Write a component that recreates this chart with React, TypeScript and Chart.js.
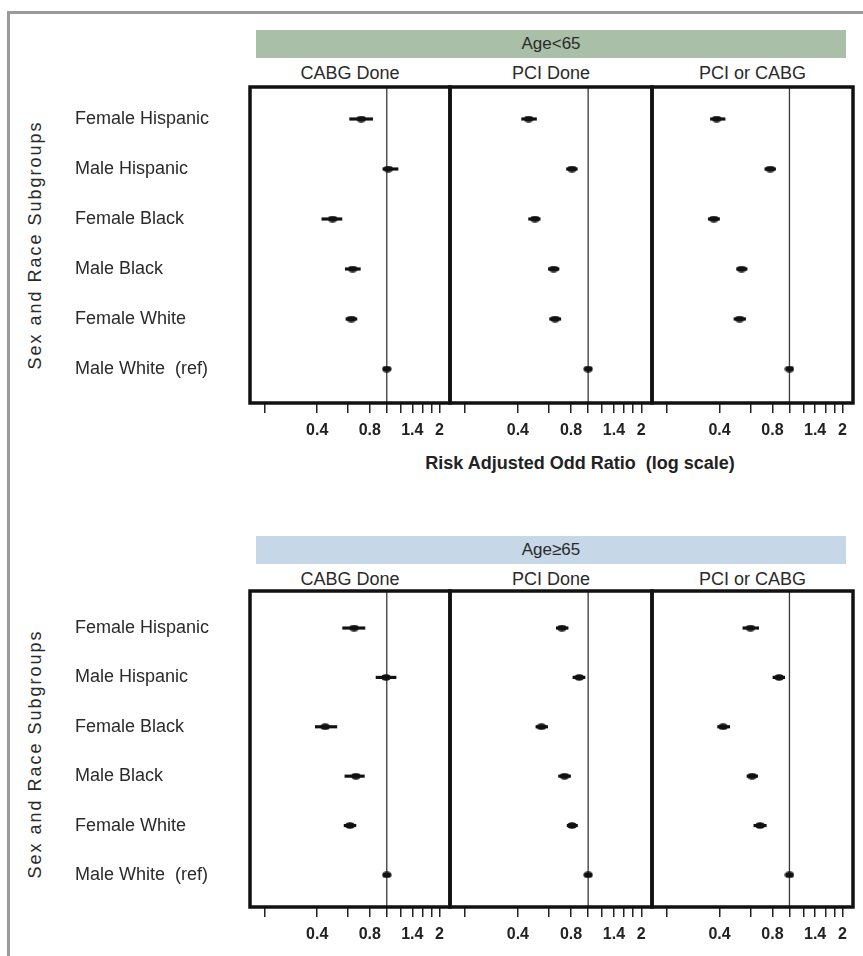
import React, { useEffect, useRef } from "react";
import { Chart, registerables } from "chart.js";

Chart.register(...registerables);

// ---------- data ----------
const subgroups = [
  "Female Hispanic",
  "Male Hispanic",
  "Female Black",
  "Male Black",
  "Female White",
  "Male White  (ref)",
];
const panelTitles = ["CABG Done", "PCI Done", "PCI or CABG"];
const ageGroups = ["Age<65", "Age\u226565"];
const xAxisTitle = "Risk Adjusted Odd Ratio  (log scale)";
const yAxisTitle = "Sex and Race Subgroups";
const tickValues = [0.2, 0.4, 0.6, 0.8, 1, 1.2, 1.4, 1.6, 1.8, 2];
const tickText = ["", "0.4", "", "0.8", "", "", "1.4", "", "", "2"];

// Age<65
const youngCabgOR = [0.715, 1.02, 0.49, 0.638, 0.627, 1.0];
const youngCabgLo = [0.613, 0.95, 0.425, 0.579, 0.584, null];
const youngCabgHi = [0.83, 1.16, 0.554, 0.706, 0.675, null];

const youngPciOR = [0.46, 0.81, 0.5, 0.638, 0.65, 1.0];
const youngPciLo = [0.42, 0.754, 0.46, 0.595, 0.605, null];
const youngPciHi = [0.51, 0.868, 0.535, 0.684, 0.7, null];

const youngAnyOR = [0.385, 0.778, 0.371, 0.534, 0.52, 1.0];
const youngAnyLo = [0.355, 0.724, 0.345, 0.5, 0.483, null];
const youngAnyHi = [0.43, 0.834, 0.4, 0.574, 0.563, null];

// Age>=65
const oldCabgOR = [0.65, 0.99, 0.444, 0.666, 0.616, 1.0];
const oldCabgLo = [0.559, 0.868, 0.39, 0.576, 0.57, null];
const oldCabgHi = [0.75, 1.13, 0.518, 0.744, 0.666, null];

const oldPciOR = [0.71, 0.89, 0.544, 0.735, 0.81, 1.0];
const oldPciLo = [0.66, 0.82, 0.506, 0.68, 0.76, null];
const oldPciHi = [0.77, 0.96, 0.59, 0.795, 0.87, null];

const oldAnyOR = [0.6, 0.873, 0.419, 0.613, 0.68, 1.0];
const oldAnyLo = [0.543, 0.805, 0.39, 0.573, 0.627, null];
const oldAnyHi = [0.668, 0.94, 0.457, 0.659, 0.738, null];

const panelData = [
  { or: youngCabgOR, lo: youngCabgLo, hi: youngCabgHi },
  { or: youngPciOR, lo: youngPciLo, hi: youngPciHi },
  { or: youngAnyOR, lo: youngAnyLo, hi: youngAnyHi },
  { or: oldCabgOR, lo: oldCabgLo, hi: oldCabgHi },
  { or: oldPciOR, lo: oldPciLo, hi: oldPciHi },
  { or: oldAnyOR, lo: oldAnyLo, hi: oldAnyHi },
];

// ---------- layout ----------
const X_MIN = 0.165;
const X_MAX = 2.3;
const rowCanvasTop = [80, 584];
const rowYRange = [
  [-0.64, 5.68],
  [-0.75, 5.65],
];
const PAD_TOP = 7;
const AREA_H = 316;
const XAXIS_H = 45;
const CANVAS_H = PAD_TOP + AREA_H + XAXIS_H;
const cols = [
  { left: 0, width: 460, padL: 75, padR: 10 },
  { left: 440, width: 222, padL: 10, padR: 10 },
  { left: 642, width: 221, padL: 10, padR: 10 },
];
const colCenters = [350, 551, 752.5];

const boxPlugin = {
  id: "panelBox",
  afterDatasetsDraw(chart: any) {
    const { ctx, chartArea } = chart;
    const { left, top, right, bottom } = chartArea;
    ctx.save();
    ctx.strokeStyle = "#111";
    ctx.lineWidth = 3.5;
    ctx.strokeRect(left, top, right - left, bottom - top);
    ctx.restore();
  },
};

function makeMarker() {
  const c = document.createElement("canvas");
  c.width = 10;
  c.height = 7;
  const g = c.getContext("2d")!;
  g.fillStyle = "#111";
  g.beginPath();
  g.ellipse(5, 3.5, 4.6, 3.2, 0, 0, Math.PI * 2);
  g.fill();
  return c;
}

export default function App() {
  const refs = useRef<(HTMLCanvasElement | null)[]>([]);

  useEffect(() => {
    const marker = makeMarker();
    const charts: Chart[] = [];
    panelData.forEach((p, i) => {
      const row = Math.floor(i / 3);
      const col = i % 3;
      const canvas = refs.current[i];
      if (!canvas) return;
      const [yMin, yMax] = rowYRange[row];
      const showY = col === 0;
      const bars = p.or
        .map((_, k) => (p.lo[k] == null ? null : { x: [p.lo[k], p.hi[k]], y: k }))
        .filter((d) => d !== null);
      const points = p.or.map((v, k) => ({ x: v, y: k }));
      const chart = new Chart(canvas, {
        type: "scatter",
        data: {
          datasets: [
            {
              type: "scatter",
              data: [
                { x: 1, y: yMin },
                { x: 1, y: yMax },
              ],
              showLine: true,
              borderColor: "#3a3a3a",
              borderWidth: 1.3,
              pointRadius: 0,
              order: 3,
            } as any,
            {
              type: "bar",
              indexAxis: "y",
              data: bars,
              backgroundColor: "#111",
              borderWidth: 0,
              barThickness: 2.5,
              order: 2,
            } as any,
            {
              type: "scatter",
              data: points,
              pointStyle: marker,
              pointRadius: 4,
              order: 1,
            } as any,
          ],
        },
        options: {
          animation: false,
          responsive: false,
          events: [],
          layout: {
            padding: { left: cols[col].padL, right: cols[col].padR, top: PAD_TOP, bottom: 0 },
          },
          plugins: { legend: { display: false }, tooltip: { enabled: false } },
          scales: {
            x: {
              type: "logarithmic",
              min: X_MIN,
              max: X_MAX,
              offset: false,
              afterBuildTicks: (s: any) => {
                s.ticks = tickValues.map((v) => ({ value: v }));
              },
              afterFit: (s: any) => {
                s.height = XAXIS_H;
                s.paddingLeft = 0;
                s.paddingRight = 0;
              },
              ticks: {
                autoSkip: false,
                maxRotation: 0,
                padding: 8,
                color: "#222",
                font: {
                  family: "'Liberation Sans', Arial, sans-serif",
                  size: 16,
                  weight: "bold",
                },
                callback: (_v: any, idx: number) => tickText[idx],
              },
              grid: {
                display: true,
                offset: false,
                drawOnChartArea: false,
                drawTicks: true,
                tickLength: 10,
                color: "#222",
                lineWidth: 1.5,
              },
              border: { display: false },
            },
            y: {
              type: "linear",
              display: showY,
              reverse: true,
              offset: false,
              min: yMin,
              max: yMax,
              afterBuildTicks: (s: any) => {
                s.ticks = subgroups.map((_, k) => ({ value: k }));
              },
              afterFit: (s: any) => {
                s.width = showY ? 250 - cols[0].padL : 0;
                s.paddingTop = 0;
                s.paddingBottom = 0;
              },
              ticks: {
                autoSkip: false,
                crossAlign: "far",
                color: "#2a2a2a",
                font: { family: "'Liberation Sans', Arial, sans-serif", size: 18 },
                callback: (_v: any, idx: number) => subgroups[idx],
              },
              grid: { display: false, offset: false },
              border: { display: false },
            },
          },
        } as any,
        plugins: [boxPlugin],
      });
      charts.push(chart);
    });
    return () => charts.forEach((c) => c.destroy());
  }, []);

  const text: React.CSSProperties = {
    position: "absolute",
    whiteSpace: "pre",
    color: "#2a2a2a",
    fontFamily: "'Liberation Sans', Arial, sans-serif",
  };

  return (
    <div
      style={{
        position: "fixed",
        left: 0,
        top: 0,
        width: 863,
        height: 956,
        overflow: "hidden",
        background: "#fff",
      }}
    >
      <div
        style={{
          position: "absolute",
          left: 7,
          top: 11,
          width: 900,
          height: 1000,
          borderTop: "3px solid #9b9b9b",
          borderLeft: "3px solid #9b9b9b",
        }}
      />
      {[0, 1].map((row) => (
        <React.Fragment key={row}>
          <div
            style={{
              position: "absolute",
              left: 256,
              top: row === 0 ? 30 : 536,
              width: 590,
              height: 28,
              background: row === 0 ? "#aabfa8" : "#c6d7e7",
              display: "flex",
              alignItems: "center",
              justifyContent: "center",
              fontFamily: "'Liberation Sans', Arial, sans-serif",
              fontSize: 17,
              color: "#2a2a2a",
            }}
          >
            {ageGroups[row]}
          </div>
          {panelTitles.map((t, c) => (
            <div
              key={c}
              style={{
                ...text,
                left: colCenters[c],
                top: row === 0 ? 73 : 579,
                transform: "translate(-50%, -50%)",
                fontSize: 18,
              }}
            >
              {t}
            </div>
          ))}
          <div
            style={{
              ...text,
              left: 35,
              top: row === 0 ? 245 : 754,
              transform: "translate(-50%, -50%) rotate(-90deg)",
              fontSize: 18,
              letterSpacing: "2px",
            }}
          >
            {yAxisTitle}
          </div>
        </React.Fragment>
      ))}
      <div
        style={{
          ...text,
          left: 580,
          top: 463,
          transform: "translate(-50%, -50%)",
          fontSize: 18,
          fontWeight: "bold",
          color: "#222",
        }}
      >
        {xAxisTitle}
      </div>
      {panelData.map((_, i) => {
        const row = Math.floor(i / 3);
        const col = i % 3;
        return (
          <canvas
            key={i}
            ref={(el) => {
              refs.current[i] = el;
            }}
            width={cols[col].width}
            height={CANVAS_H}
            style={{
              position: "absolute",
              left: cols[col].left,
              top: rowCanvasTop[row],
            }}
          />
        );
      })}
    </div>
  );
}
